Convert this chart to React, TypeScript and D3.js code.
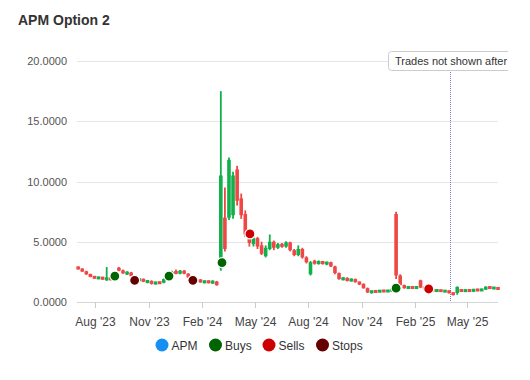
import React from 'react';
import * as d3 from 'd3';

const dates = [
  '2023-07-03','2023-07-10','2023-07-17','2023-07-24','2023-07-31','2023-08-07','2023-08-14','2023-08-21','2023-08-28',
  '2023-09-04','2023-09-11','2023-09-18','2023-09-25','2023-10-02','2023-10-09','2023-10-16','2023-10-23','2023-10-30',
  '2023-11-06','2023-11-13','2023-11-20','2023-11-27','2023-12-04','2023-12-11','2023-12-18','2023-12-25',
  '2024-01-01','2024-01-08','2024-01-15','2024-01-22','2024-01-29','2024-02-05','2024-02-12','2024-02-19','2024-02-26',
  '2024-03-04','2024-03-11','2024-03-18','2024-03-25','2024-04-01','2024-04-08','2024-04-15','2024-04-22','2024-04-29',
  '2024-05-06','2024-05-13','2024-05-20','2024-05-27','2024-06-03','2024-06-10','2024-06-17','2024-06-24',
  '2024-07-01','2024-07-08','2024-07-15','2024-07-22','2024-07-29','2024-08-05','2024-08-12','2024-08-19','2024-08-26',
  '2024-09-02','2024-09-09','2024-09-16','2024-09-23','2024-09-30','2024-10-07','2024-10-14','2024-10-21','2024-10-28',
  '2024-11-04','2024-11-11','2024-11-18','2024-11-25','2024-12-02','2024-12-09','2024-12-16','2024-12-23','2024-12-30',
  '2025-01-06','2025-01-13','2025-01-20','2025-01-27','2025-02-03','2025-02-10','2025-02-17','2025-02-24',
  '2025-03-03','2025-03-10','2025-03-17','2025-03-24','2025-03-31','2025-04-07','2025-04-14','2025-04-21','2025-04-28',
  '2025-05-05','2025-05-12','2025-05-19','2025-05-26','2025-06-02','2025-06-09','2025-06-16','2025-06-23',
];

const opens = [
  2.9, 2.75, 2.55, 2.3, 2.1, 1.95, 2.05, 1.85, 2.0,
  1.9, 2.85, 2.6, 2.35, 2.45, 2.15, 1.8, 1.9, 1.65,
  1.75, 1.5, 1.65, 1.6, 1.9, 2.2, 2.55, 2.35,
  2.6, 2.35, 2.05, 1.75, 1.85, 1.6, 1.75, 1.6, 1.7,
  2.8, 7.0, 7.0, 7.2, 11.0, 8.6, 7.3, 5.8, 4.8,
  5.3, 4.7, 3.8, 4.4, 5.0, 4.5, 4.8, 4.6,
  4.95, 4.3, 3.9, 4.4, 3.7, 2.3, 3.4, 3.2, 3.35,
  3.15, 3.3, 2.95, 2.4, 1.85, 2.0, 1.75, 1.9, 1.65,
  1.5, 1.15, 0.8, 0.9, 0.85, 0.95, 0.88, 0.9, 7.3,
  2.2, 1.4, 1.15, 1.25, 1.15, 1.8, 1.2, 1.1,
  1.0, 0.9, 1.0, 0.85, 0.95, 0.75, 0.75, 1.0, 0.88,
  1.0, 0.88, 1.05, 0.95, 1.05, 1.25, 1.12, 1.2,
];
const highs = [
  2.95, 2.8, 2.6, 2.35, 2.15, 2.1, 2.1, 2.9, 2.05,
  2.4, 2.9, 2.7, 2.55, 2.5, 2.2, 1.95, 1.95, 1.8,
  1.8, 1.7, 1.7, 1.95, 2.3, 2.6, 2.7, 2.65,
  2.65, 2.4, 2.1, 1.9, 1.9, 1.8, 1.8, 1.8, 1.75,
  17.5, 9.5, 12.0, 10.8, 11.3, 9.0, 7.6, 6.0, 5.5,
  5.4, 5.0, 4.7, 5.6, 5.1, 4.9, 4.9, 5.05,
  5.0, 4.4, 4.7, 4.5, 3.8, 3.4, 3.5, 3.45, 3.4,
  3.35, 3.35, 3.0, 2.45, 2.05, 2.05, 1.95, 1.95, 1.7,
  1.55, 1.2, 0.95, 0.95, 1.0, 1.0, 0.98, 1.1, 7.5,
  2.3, 1.45, 1.3, 1.3, 1.3, 1.85, 1.25, 1.15,
  1.05, 1.05, 1.02, 1.0, 0.98, 0.8, 1.3, 1.05, 1.05,
  1.05, 1.1, 1.08, 1.1, 1.3, 1.3, 1.25, 1.22,
];
const lows = [
  2.7, 2.5, 2.25, 2.05, 1.95, 1.9, 1.85, 1.75, 1.8,
  1.85, 2.55, 2.35, 2.25, 2.1, 1.8, 1.7, 1.65, 1.55,
  1.45, 1.45, 1.5, 1.55, 1.85, 2.1, 2.3, 2.3,
  2.3, 2.0, 1.75, 1.65, 1.6, 1.55, 1.55, 1.5, 1.35,
  2.6, 4.2, 6.8, 6.9, 8.0, 6.9, 5.4, 4.6, 4.6,
  4.4, 3.9, 3.7, 4.3, 4.3, 4.4, 4.5, 4.5,
  4.2, 3.8, 3.8, 3.6, 3.2, 2.2, 3.1, 3.1, 3.1,
  3.05, 2.9, 2.3, 1.85, 1.8, 1.7, 1.7, 1.6, 1.4,
  1.1, 0.75, 0.7, 0.8, 0.8, 0.82, 0.8, 0.85, 1.9,
  1.3, 1.1, 1.1, 1.1, 1.1, 1.15, 1.05, 0.95,
  0.9, 0.88, 0.85, 0.82, 0.7, 0.55, 0.6, 0.85, 0.85,
  0.85, 0.85, 0.9, 0.92, 1.0, 1.1, 1.08, 1.0,
];
const closes = [
  2.75, 2.55, 2.3, 2.1, 2.0, 2.05, 1.9, 2.0, 1.85,
  2.35, 2.6, 2.4, 2.45, 2.15, 1.85, 1.9, 1.7, 1.75,
  1.5, 1.65, 1.55, 1.9, 2.2, 2.5, 2.35, 2.6,
  2.35, 2.05, 1.8, 1.85, 1.65, 1.75, 1.6, 1.7, 1.4,
  10.5, 4.4, 11.8, 10.5, 8.4, 7.2, 5.6, 4.9, 5.3,
  4.6, 4.0, 4.5, 5.0, 4.5, 4.8, 4.6, 4.95,
  4.3, 3.9, 4.4, 3.7, 3.3, 3.3, 3.2, 3.35, 3.2,
  3.3, 2.95, 2.4, 1.9, 2.0, 1.75, 1.9, 1.65, 1.5,
  1.15, 0.8, 0.9, 0.85, 0.95, 0.88, 0.95, 1.05, 2.2,
  1.4, 1.15, 1.25, 1.15, 1.25, 1.2, 1.1, 1.0,
  0.95, 1.0, 0.88, 0.95, 0.75, 0.62, 1.25, 0.9, 1.0,
  0.9, 1.05, 0.95, 1.05, 1.25, 1.15, 1.2, 1.05,
];

const buyDates = ['2023-09-04', '2023-12-06', '2024-03-06', '2024-12-30'];
const buyValues = [2.15, 2.15, 3.26, 1.15];
const sellDates = ['2024-04-23', '2025-02-24'];
const sellValues = [5.65, 1.08];
const stopDates = ['2023-10-08', '2024-01-16'];
const stopValues = [1.8, 1.8];

const xTickDates = ['2023-08-01', '2023-11-01', '2024-02-01', '2024-05-01', '2024-08-01', '2024-11-01', '2025-02-01', '2025-05-01'];
const xTickLabels = ["Aug '23", "Nov '23", "Feb '24", "May '24", "Aug '24", "Nov '24", "Feb '25", "May '25"];
const yTicks = [0, 5, 10, 15, 20];

const legendNames = ['APM', 'Buys', 'Sells', 'Stops'];
const legendColors = ['#168ff5', '#006400', '#cc0000', '#660000'];

const plotLineDate = '2025-04-01';
const plotLineLabel = 'Trades not shown after';

const UP = '#10b04a';
const DOWN = '#ef4646';

const parse = d3.timeParse('%Y-%m-%d');

export default function App() {
  const W = 530;
  const H = 380;
  const left = 77, right = 498, top = 61, bottom = 302;
  const x = d3.scaleTime()
    .domain([parse('2023-07-01') as Date, parse('2025-06-23') as Date])
    .range([left, right]);
  const y = d3.scaleLinear().domain([0, 20]).range([bottom, top]);
  const font = '"Liberation Sans", Arial, Helvetica, sans-serif';
  const legendX = [162, 215.5, 269, 322.5];
  const plx = Math.round(x(parse(plotLineDate) as Date)) + 0.5;

  const marker = (ds: string[], vs: number[], color: string, key: string) =>
    ds.map((d, i) => (
      <circle key={key + i} cx={x(parse(d) as Date)} cy={y(vs[i])} r={5}
        fill={color} stroke="#ffffff" strokeWidth={1.2} />
    ));

  return (
    <svg width={W} height={H} style={{ position: 'absolute', left: 0, top: 0, fontFamily: font }}>
      <defs>
        <clipPath id="chartclip"><rect x={0} y={0} width={508} height={H} /></clipPath>
      </defs>
      <rect x={0} y={0} width={W} height={H} fill="#ffffff" />
      <g clipPath="url(#chartclip)">
        <text x={18} y={25} fontSize={14} fontWeight="bold" fill="#333333">APM Option 2</text>
        {yTicks.map((t) => (
          <g key={'y' + t}>
            <line x1={left} x2={right} y1={Math.round(y(t)) + 0.5} y2={Math.round(y(t)) + 0.5}
              stroke={t === 0 ? '#d6d6d6' : '#e6e6e6'} strokeWidth={1} />
            <text x={67} y={y(t) + 4} fontSize={11} fill="#555555" textAnchor="end">{t.toFixed(4)}</text>
          </g>
        ))}
        {xTickDates.map((d, i) => {
          const px = Math.round(x(parse(d) as Date)) + 0.5;
          return (
            <g key={'x' + i}>
              <line x1={px} x2={px} y1={bottom} y2={bottom + 6} stroke="#cccccc" strokeWidth={1} />
              <text x={px} y={326} fontSize={12} fill="#444444" textAnchor="middle">{xTickLabels[i]}</text>
            </g>
          );
        })}
        <line x1={plx} x2={plx} y1={70} y2={bottom} stroke="#7a7ad8" strokeWidth={1} strokeDasharray="1 1" />
        {dates.map((d, i) => {
          const cx = x(parse(d) as Date);
          const o = opens[i], c = closes[i];
          const col = c >= o ? UP : DOWN;
          const yt = y(Math.max(o, c));
          const yb = y(Math.min(o, c));
          const h = Math.max(3, yb - yt);
          return (
            <g key={'c' + i}>
              <line x1={cx} x2={cx} y1={y(highs[i])} y2={y(lows[i])} stroke={col} strokeWidth={1.8} />
              <rect x={cx - 1.8} y={(yt + yb) / 2 - h / 2} width={3.6} height={h} fill={col} />
            </g>
          );
        })}
        {marker(buyDates, buyValues, '#006400', 'b')}
        {marker(stopDates, stopValues, '#660000', 's')}
        {marker(sellDates, sellValues, '#cc0000', 'l')}
        <rect x={388.5} y={51.5} width={150} height={19} rx={3} fill="#ffffff" stroke="#cccccc" strokeWidth={1} />
        <text x={395} y={65} fontSize={11} fill="#333333">{plotLineLabel}</text>
        {legendNames.map((n, i) => (
          <g key={'lg' + i}>
            <circle cx={legendX[i]} cy={345} r={6.5} fill={legendColors[i]} />
            <text x={legendX[i] + 9.5} y={349.5} fontSize={12} fill="#333333">{n}</text>
          </g>
        ))}
      </g>
    </svg>
  );
}
